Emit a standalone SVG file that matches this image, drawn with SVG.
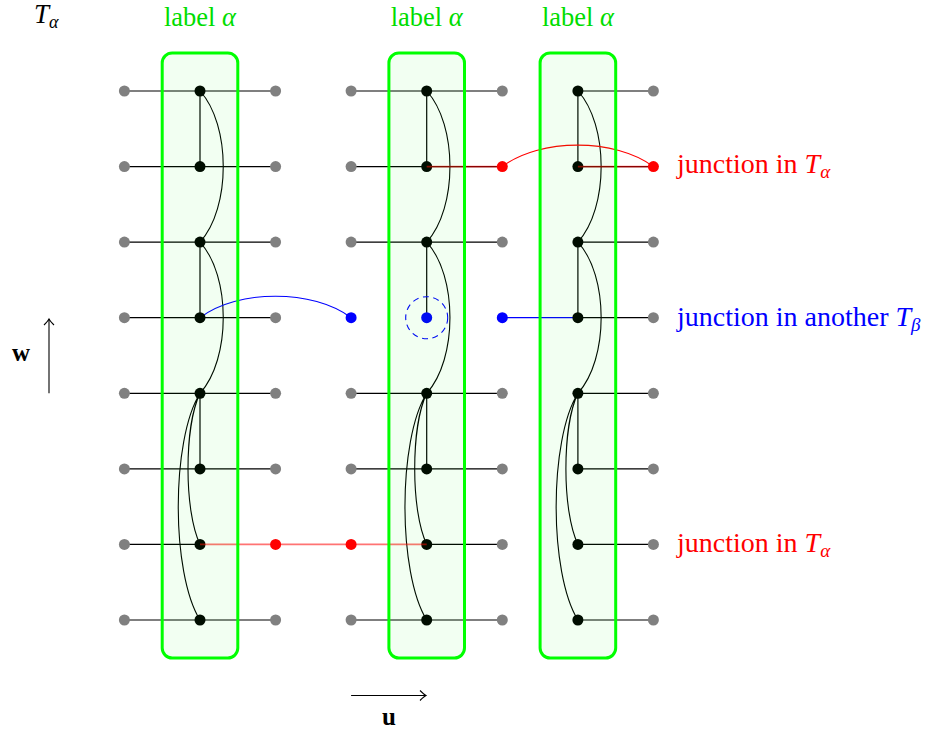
<svg xmlns="http://www.w3.org/2000/svg" width="933" height="731" viewBox="0 0 933 731">
<style>
.ln{stroke:#000;stroke-width:1.2;fill:none}
.arc{stroke:#000;stroke-width:1.1;fill:none}
.g{fill:#808080}
.k{fill:#000}
.r{fill:#ff0000}
.b{fill:#0000ff}
.box{fill:#00ff00;fill-opacity:0.05;stroke:#00ff00;stroke-width:3}
.redov{stroke:#ff0000;stroke-opacity:0.55;stroke-width:1.6;fill:none}
.t{font-family:"Liberation Serif","DejaVu Serif",serif}
.lab{font-size:26.5px;fill:#00dd00}
.jr{font-size:28px;fill:#ff0000}
.jb{font-size:28px;fill:#0000ff}
</style>
<defs>
<marker id="tip" markerUnits="userSpaceOnUse" markerWidth="14" markerHeight="14" refX="0" refY="0" viewBox="-8 -7 10 14" orient="auto" overflow="visible">
<path d="M-6,-5 Q-2,-1 0,0 Q-2,1 -6,5" fill="none" stroke="#000" stroke-width="1.1"/>
</marker>
</defs>
<rect width="933" height="731" fill="#fff"/>

<g id="connectors">
<path class="ln" d="M124.4,91H275.6M124.4,166.6H275.6M124.4,242.1H275.6M124.4,317.7H275.6M124.4,393.3H275.6M124.4,468.9H275.6M124.4,544.4H200M124.4,620H275.6"/>
<path class="ln" d="M351.1,91H502.3M351.1,166.6H502.3M351.1,242.1H502.3M351.1,393.3H502.3M351.1,468.9H502.3M426.7,544.4H502.3M351.1,620H502.3"/>
<path class="ln" d="M577.9,91H653.4M577.9,166.6H653.4M577.9,242.1H653.4M577.9,317.7H653.4M577.9,393.3H653.4M577.9,468.9H653.4M577.9,544.4H653.4M577.9,620H653.4"/>
<path class="ln" d="M200,91V166.6M200,242.1V317.7M200,393.3V468.9M426.7,91V166.6M426.7,242.1V317.7M426.7,393.3V468.9M577.9,91V166.6M577.9,242.1V317.7M577.9,393.3V468.9"/>
<path class="arc" d="M200,91C231,125 231,208 200,242.1M200,242.1C231,276 231,359 200,393.3M200,393.3C184,427 184,511 200,544.4M200,393.3C171,440 171,573 200,620"/>
<path class="arc" d="M426.7,91C457.7,125 457.7,208 426.7,242.1M426.7,242.1C457.7,276 457.7,359 426.7,393.3M426.7,393.3C410.7,427 410.7,511 426.7,544.4M426.7,393.3C397.7,440 397.7,573 426.7,620"/>
<path class="arc" d="M577.9,91C608.9,125 608.9,208 577.9,242.1M577.9,242.1C608.9,276 608.9,359 577.9,393.3M577.9,393.3C561.9,427 561.9,511 577.9,544.4M577.9,393.3C548.9,440 548.9,573 577.9,620"/>
<path d="M200,317.7C238,289 313,289 351.1,317.7" fill="none" stroke="#0000ff" stroke-width="1.1"/>
<path d="M502.3,317.7H577.9" fill="none" stroke="#0000ff" stroke-width="1.2"/>
<circle cx="426.7" cy="317.7" r="21" fill="none" stroke="#0000ff" stroke-width="1.1" stroke-dasharray="6,4.5"/>
<path d="M502.3,166.6C540,138 615,138 653.4,166.6" fill="none" stroke="#ff0000" stroke-width="1.1"/>
<path d="M49,393.3V319" fill="none" stroke="#000" stroke-width="1.1" marker-end="url(#tip)"/>
<path d="M351.1,695.5H426" fill="none" stroke="#000" stroke-width="1.1" marker-end="url(#tip)"/>
</g>

<g id="nodes">
<g id="col1">
<circle class="g" cx="124.4" cy="91" r="5.5"/><circle class="g" cx="124.4" cy="166.6" r="5.5"/><circle class="g" cx="124.4" cy="242.1" r="5.5"/><circle class="g" cx="124.4" cy="317.7" r="5.5"/><circle class="g" cx="124.4" cy="393.3" r="5.5"/><circle class="g" cx="124.4" cy="468.9" r="5.5"/><circle class="g" cx="124.4" cy="544.4" r="5.5"/><circle class="g" cx="124.4" cy="620" r="5.5"/>
<circle class="k" cx="200" cy="91" r="5.5"/><circle class="k" cx="200" cy="166.6" r="5.5"/><circle class="k" cx="200" cy="242.1" r="5.5"/><circle class="k" cx="200" cy="317.7" r="5.5"/><circle class="k" cx="200" cy="393.3" r="5.5"/><circle class="k" cx="200" cy="468.9" r="5.5"/><circle class="k" cx="200" cy="544.4" r="5.5"/><circle class="k" cx="200" cy="620" r="5.5"/>
<circle class="g" cx="275.6" cy="91" r="5.5"/><circle class="g" cx="275.6" cy="166.6" r="5.5"/><circle class="g" cx="275.6" cy="242.1" r="5.5"/><circle class="g" cx="275.6" cy="317.7" r="5.5"/><circle class="g" cx="275.6" cy="393.3" r="5.5"/><circle class="g" cx="275.6" cy="468.9" r="5.5"/><circle class="r" cx="275.6" cy="544.4" r="5.5"/><circle class="g" cx="275.6" cy="620" r="5.5"/>
</g>
<g id="col2">
<circle class="g" cx="351.1" cy="91" r="5.5"/><circle class="g" cx="351.1" cy="166.6" r="5.5"/><circle class="g" cx="351.1" cy="242.1" r="5.5"/><circle class="b" cx="351.1" cy="317.7" r="5.5"/><circle class="g" cx="351.1" cy="393.3" r="5.5"/><circle class="g" cx="351.1" cy="468.9" r="5.5"/><circle class="r" cx="351.1" cy="544.4" r="5.5"/><circle class="g" cx="351.1" cy="620" r="5.5"/>
<circle class="k" cx="426.7" cy="91" r="5.5"/><circle class="k" cx="426.7" cy="166.6" r="5.5"/><circle class="k" cx="426.7" cy="242.1" r="5.5"/><circle class="b" cx="426.7" cy="317.7" r="5.5"/><circle class="k" cx="426.7" cy="393.3" r="5.5"/><circle class="k" cx="426.7" cy="468.9" r="5.5"/><circle class="k" cx="426.7" cy="544.4" r="5.5"/><circle class="k" cx="426.7" cy="620" r="5.5"/>
<circle class="g" cx="502.3" cy="91" r="5.5"/><circle class="r" cx="502.3" cy="166.6" r="5.5"/><circle class="g" cx="502.3" cy="242.1" r="5.5"/><circle class="b" cx="502.3" cy="317.7" r="5.5"/><circle class="g" cx="502.3" cy="393.3" r="5.5"/><circle class="g" cx="502.3" cy="468.9" r="5.5"/><circle class="g" cx="502.3" cy="544.4" r="5.5"/><circle class="g" cx="502.3" cy="620" r="5.5"/>
</g>
<g id="col3">
<circle class="k" cx="577.9" cy="91" r="5.5"/><circle class="k" cx="577.9" cy="166.6" r="5.5"/><circle class="k" cx="577.9" cy="242.1" r="5.5"/><circle class="k" cx="577.9" cy="317.7" r="5.5"/><circle class="k" cx="577.9" cy="393.3" r="5.5"/><circle class="k" cx="577.9" cy="468.9" r="5.5"/><circle class="k" cx="577.9" cy="544.4" r="5.5"/><circle class="k" cx="577.9" cy="620" r="5.5"/>
<circle class="g" cx="653.4" cy="91" r="5.5"/><circle class="r" cx="653.4" cy="166.6" r="5.5"/><circle class="g" cx="653.4" cy="242.1" r="5.5"/><circle class="g" cx="653.4" cy="317.7" r="5.5"/><circle class="g" cx="653.4" cy="393.3" r="5.5"/><circle class="g" cx="653.4" cy="468.9" r="5.5"/><circle class="g" cx="653.4" cy="544.4" r="5.5"/><circle class="g" cx="653.4" cy="620" r="5.5"/>
</g>
</g>

<g id="red-overlays">
<path class="redov" d="M426.7,166.6H502.3M577.9,166.6H653.4M200,544.4H426.7"/>
</g>

<g id="boxes">
<rect id="box1" class="box" x="162.2" y="53" width="75.6" height="605" rx="10"/>
<rect id="box2" class="box" x="388.9" y="53" width="75.6" height="605" rx="10"/>
<rect id="box3" class="box" x="540.1" y="53" width="75.6" height="605" rx="10"/>
</g>

<g id="labels" class="t">
<text x="34" y="23" font-size="27" font-style="italic">T<tspan font-size="18" dy="5">α</tspan></text>
<text class="lab" x="200" y="26" text-anchor="middle">label <tspan font-style="italic">α</tspan></text>
<text class="lab" x="426.7" y="26" text-anchor="middle">label <tspan font-style="italic">α</tspan></text>
<text class="lab" x="577.9" y="26" text-anchor="middle">label <tspan font-style="italic">α</tspan></text>
<text class="jr" x="677" y="173">junction in <tspan font-style="italic">T</tspan><tspan font-style="italic" font-size="19" dy="5">α</tspan></text>
<text class="jb" x="677" y="326">junction in another <tspan font-style="italic">T</tspan><tspan font-style="italic" font-size="19" dy="5">β</tspan></text>
<text class="jr" x="677" y="552">junction in <tspan font-style="italic">T</tspan><tspan font-style="italic" font-size="19" dy="5">α</tspan></text>
<text x="21" y="361" font-size="25" font-weight="bold" text-anchor="middle">w</text>
<text x="389" y="725" font-size="25" font-weight="bold" text-anchor="middle">u</text>
</g>
</svg>
